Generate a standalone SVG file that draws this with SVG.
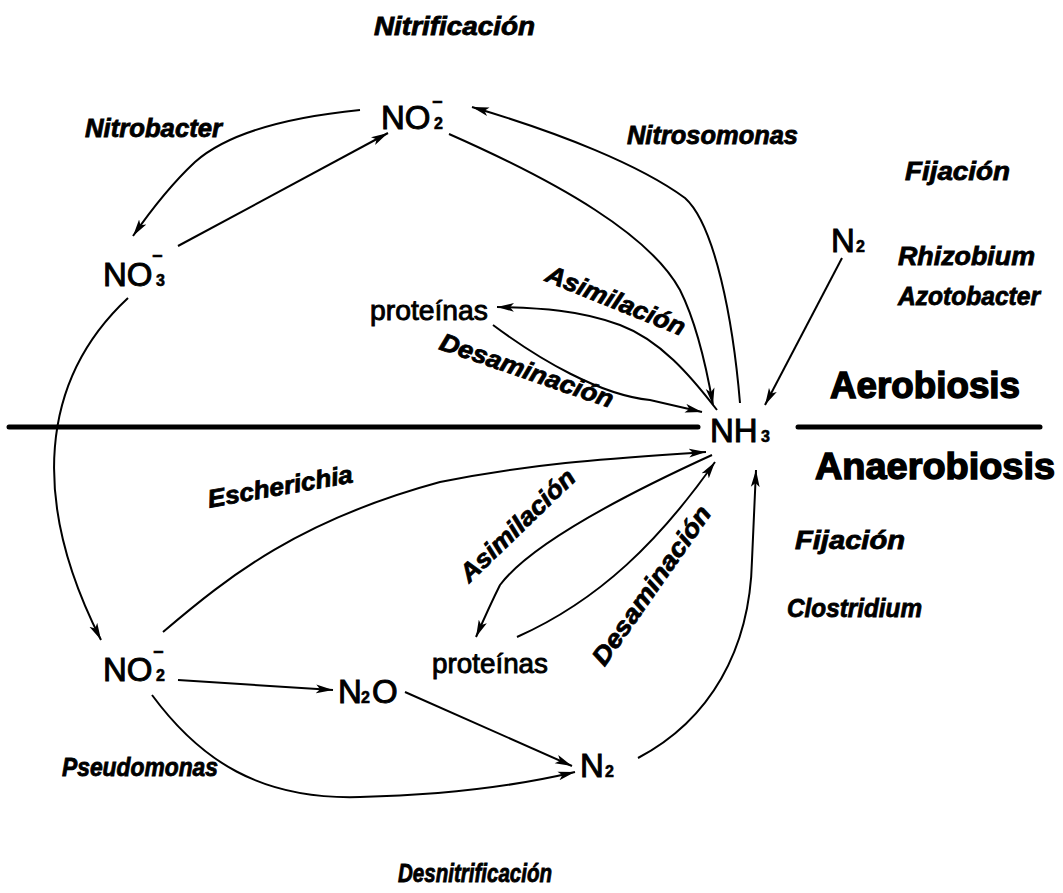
<svg xmlns="http://www.w3.org/2000/svg" width="1063" height="893" viewBox="0 0 1063 893">
  <style>
    text { font-family: "Liberation Sans", Arial, sans-serif; fill: #000; }
    .sp { font-size: 33px; stroke: #000; stroke-width: 1px; }
    .sub { font-size: 16px; font-weight: bold; stroke: #000; stroke-width: 0.6px; }
    .chg { font-size: 18px; font-weight: bold; stroke: #000; stroke-width: 0.6px; }
    .prot { font-size: 28px; stroke: #000; stroke-width: 0.9px; }
    .lbl { font-size: 25px; font-weight: bold; font-style: italic; stroke: #000; stroke-width: 0.8px; }
    .zone { font-size: 36px; font-weight: bold; stroke: #000; stroke-width: 1.4px; }
    .conn path { fill: none; stroke: #000; stroke-width: 2; }
    .arr { marker-end: url(#ah); }
  </style>
  <defs>
    <marker id="ah" markerUnits="userSpaceOnUse" markerWidth="20" markerHeight="10" refX="17" refY="5" orient="auto">
      <path d="M0,0.6 L17,5 L0,9.4 L4,5 Z" fill="#000"/>
    </marker>
  </defs>
  <rect width="1063" height="893" fill="#fff"/>

  <!-- aerobic / anaerobic boundary -->
  <g id="boundary">
    <line x1="9" y1="427" x2="698" y2="427" stroke="#000" stroke-width="5" stroke-linecap="round"/>
    <line x1="798" y1="427" x2="1040" y2="427" stroke="#000" stroke-width="5" stroke-linecap="round"/>
  </g>

  <g class="conn">
    <!-- nitrification -->
    <path class="arr" d="M360,110 Q240,122 195,162 Q165,190 133,236"/>
    <path class="arr" d="M178,246 L388,133"/>
    <path class="arr" d="M449,134 C560,183 650,235 680,290 Q700,330 713,405"/>
    <path class="arr" d="M740,403 C733,320 715,225 685,198 C640,165 560,133 472,107"/>
    <!-- fixation (aerobic) -->
    <path class="arr" d="M842,258 L765,405"/>
    <!-- assimilation / deamination, aerobic -->
    <path class="arr" d="M717,410 C690,375 660,340 620,325 C580,310 540,308 497,307"/>
    <path class="arr" d="M493,325 C540,360 600,395 650,400 L702,412"/>
    <!-- anaerobic side -->
    <path class="arr" d="M128,298 C40,380 30,500 101,640"/>
    <path class="arr" d="M163,632 C230,575 300,520 440,482 C540,462 620,458 706,452"/>
    <path class="arr" d="M712,455 C620,497 530,545 500,585 Q490,605 476,637"/>
    <path class="arr" d="M517,637 C600,600 660,540 715,462"/>
    <!-- denitrification -->
    <path class="arr" d="M178,680 L333,690"/>
    <path class="arr" d="M405,692 L572,766"/>
    <path class="arr" d="M152,695 C200,760 260,800 360,797 C450,795 520,785 575,772"/>
    <!-- fixation (anaerobic) -->
    <path class="arr" d="M638,758 C710,720 750,650 752,560 L756,470"/>
  </g>

  <g id="no2-top">
    <text class="sp" x="381" y="129">NO</text>
    <text class="sub" x="434" y="129">2</text>
    <text class="chg" x="432" y="108">−</text>
  </g>
  <g id="no3">
    <text class="sp" x="103" y="286">NO</text>
    <text class="sub" x="156" y="286">3</text>
    <text class="chg" x="152" y="262">−</text>
  </g>
  <g id="n2-top">
    <text class="sp" x="831" y="252">N</text>
    <text class="sub" x="856" y="252">2</text>
  </g>
  <g id="proteinas-top">
    <text class="prot" x="370" y="320" textLength="118" lengthAdjust="spacingAndGlyphs">proteínas</text>
  </g>
  <g id="nh3">
    <text class="sp" x="710" y="442">NH</text>
    <text class="sub" x="761" y="442">3</text>
  </g>
  <g id="proteinas-bottom">
    <text class="prot" x="432" y="673" textLength="116" lengthAdjust="spacingAndGlyphs">proteínas</text>
  </g>
  <g id="no2-bottom">
    <text class="sp" x="103" y="681">NO</text>
    <text class="sub" x="156" y="681">2</text>
    <text class="chg" x="153" y="658">−</text>
  </g>
  <g id="n2o">
    <text class="sp" x="338" y="703">N</text>
    <text class="sub" x="361" y="703">2</text>
    <text class="sp" x="372" y="703">O</text>
  </g>
  <g id="n2-bottom">
    <text class="sp" x="580" y="777">N</text>
    <text class="sub" x="605" y="777">2</text>
  </g>

  <g id="labels">
    <text class="lbl" x="374" y="35" textLength="161" lengthAdjust="spacingAndGlyphs">Nitrificación</text>
    <text class="lbl" x="85" y="137" textLength="137" lengthAdjust="spacingAndGlyphs">Nitrobacter</text>
    <text class="lbl" x="627" y="144" textLength="171" lengthAdjust="spacingAndGlyphs">Nitrosomonas</text>
    <text class="lbl" x="905" y="180" textLength="105" lengthAdjust="spacingAndGlyphs">Fijación</text>
    <text class="lbl" x="898" y="265" textLength="137" lengthAdjust="spacingAndGlyphs">Rhizobium</text>
    <text class="lbl" x="898" y="305" textLength="142" lengthAdjust="spacingAndGlyphs">Azotobacter</text>
    <text class="lbl" text-anchor="middle" transform="translate(616,300) rotate(22)" y="9" textLength="148" lengthAdjust="spacingAndGlyphs">Asimilación</text>
    <text class="lbl" text-anchor="middle" transform="translate(527,370) rotate(19)" y="9" textLength="182" lengthAdjust="spacingAndGlyphs">Desaminación</text>
    <text class="lbl" text-anchor="middle" transform="translate(280,486) rotate(-10)" y="9" textLength="147" lengthAdjust="spacingAndGlyphs">Escherichia</text>
    <text class="lbl" text-anchor="middle" transform="translate(517,525) rotate(-44)" y="9" textLength="150" lengthAdjust="spacingAndGlyphs">Asimilación</text>
    <text class="lbl" text-anchor="middle" transform="translate(651,585) rotate(-55)" y="9" textLength="188" lengthAdjust="spacingAndGlyphs">Desaminación</text>
    <text class="lbl" x="795" y="549" textLength="110" lengthAdjust="spacingAndGlyphs">Fijación</text>
    <text class="lbl" x="787" y="617" textLength="135" lengthAdjust="spacingAndGlyphs">Clostridium</text>
    <text class="lbl" x="62" y="776" textLength="156" lengthAdjust="spacingAndGlyphs">Pseudomonas</text>
    <text class="lbl" x="398" y="882" textLength="154" lengthAdjust="spacingAndGlyphs">Desnitrificación</text>
    <text class="zone" x="830" y="398" textLength="190" lengthAdjust="spacingAndGlyphs">Aerobiosis</text>
    <text class="zone" x="815" y="479" textLength="240" lengthAdjust="spacingAndGlyphs">Anaerobiosis</text>
  </g>
</svg>
